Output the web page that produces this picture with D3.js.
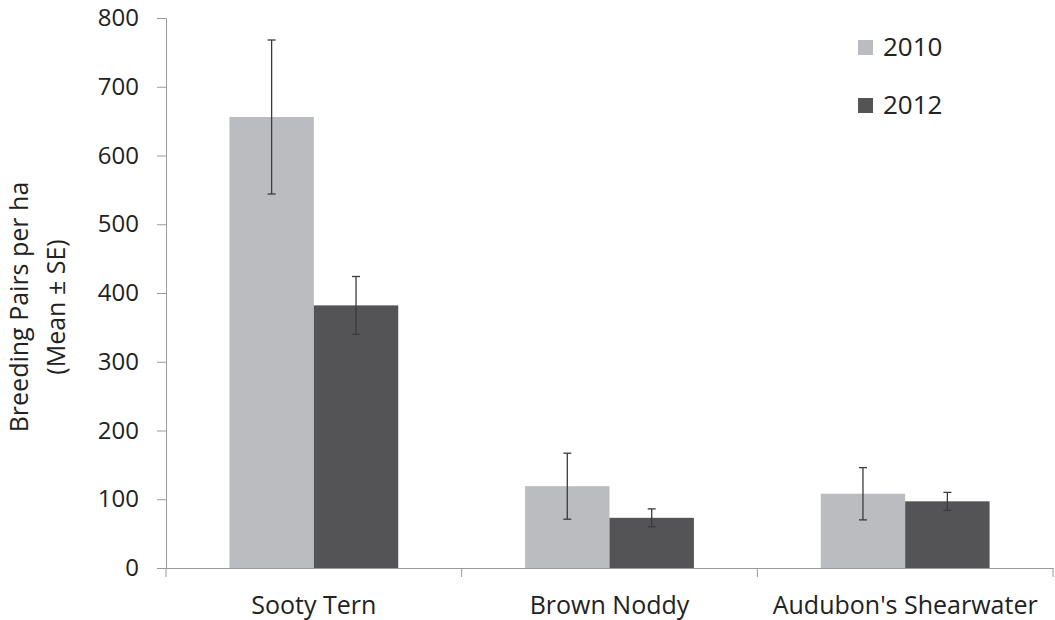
<!DOCTYPE html>
<html>
<head>
<meta charset="utf-8">
<script src="https://cdn.jsdelivr.net/npm/d3@7"></script>
<style>
  body { margin: 0; background: #fff; }
  text { font-family: "Open Sans", sans-serif; fill: #222; }
</style>
</head>
<body>
<script>
const species = ["Sooty Tern", "Brown Noddy", "Audubon's Shearwater"]
const years = ["2010", "2012"]
const mean2010 = [656, 119, 108]
const se2010 = [112, 48, 38]
const mean2012 = [382, 73, 97]
const se2012 = [42, 13, 13]
const yTicks = [0, 100, 200, 300, 400, 500, 600, 700, 800]

const colors = {"2010": "#bbbcc0", "2012": "#545456"}

const W = 1055, H = 620
const margin = {left: 166, right: 2, top: 18, bottom: 52}

const svg = d3.select("body").append("svg")
    .attr("width", W)
    .attr("height", H)

const x0 = d3.scaleBand()
    .domain(species)
    .range([margin.left, W - margin.right])
    .padding(0)

const x1 = d3.scaleBand()
    .domain(years)
    .range([0, x0.bandwidth() * 0.571])
    .padding(0)

const y = d3.scaleLinear()
    .domain([0, 800])
    .range([H - margin.bottom, margin.top])

const rows = species.map((s, i) => ({
    name: s,
    vals: [
        {year: "2010", mean: mean2010[i], se: se2010[i]},
        {year: "2012", mean: mean2012[i], se: se2012[i]},
    ]
}))

const groups = svg.selectAll("g.grp")
    .data(rows)
    .enter()
    .append("g")
    .attr("class", "grp")
    .attr("transform", d => `translate(${x0(d.name) + x0.bandwidth() * (1 - 0.571) / 2},0)`)

groups.selectAll("rect")
    .data(d => d.vals)
    .enter()
    .append("rect")
    .attr("x", d => x1(d.year))
    .attr("width", x1.bandwidth())
    .attr("y", d => y(d.mean))
    .attr("height", d => y(0) - y(d.mean))
    .attr("fill", d => colors[d.year])

// error bars
const err = groups.selectAll("g.err")
    .data(d => d.vals)
    .enter()
    .append("g")
    .attr("class", "err")
    .attr("stroke", "#3a3a3a")
    .attr("stroke-width", 1.3)

err.append("line")
    .attr("x1", d => x1(d.year) + x1.bandwidth() / 2)
    .attr("x2", d => x1(d.year) + x1.bandwidth() / 2)
    .attr("y1", d => y(d.mean + d.se))
    .attr("y2", d => y(d.mean - d.se))

err.selectAll("line.cap")
    .data(d => [d.mean + d.se, d.mean - d.se].map(v => ({v: v, year: d.year})))
    .enter()
    .append("line")
    .attr("class", "cap")
    .attr("x1", d => x1(d.year) + x1.bandwidth() / 2 - 4)
    .attr("x2", d => x1(d.year) + x1.bandwidth() / 2 + 4)
    .attr("y1", d => y(d.v))
    .attr("y2", d => y(d.v))

// y axis
const yAxis = svg.append("g")
    .attr("transform", `translate(${margin.left},0)`)
    .call(d3.axisLeft(y).tickValues(yTicks).tickSize(9).tickPadding(18))
yAxis.select(".domain").attr("stroke", "#9a9a9a")
yAxis.selectAll(".tick line").attr("stroke", "#9a9a9a")
yAxis.selectAll(".tick text")
    .style("font-family", "'Open Sans', sans-serif")
    .style("font-size", "24px")
    .attr("fill", "#222")

// x axis
const xAxis = svg.append("g")
    .attr("transform", `translate(0,${y(0)})`)
    .call(d3.axisBottom(x0).tickSize(0).tickPadding(28))
xAxis.select(".domain").attr("stroke", "#9a9a9a")
xAxis.selectAll(".tick text")
    .style("font-family", "'Open Sans', sans-serif")
    .style("font-size", "25px")
    .attr("fill", "#222")

const bounds = species.map(s => x0(s)).concat([x0.range()[1]])
xAxis.selectAll("line.sep")
    .data(bounds)
    .enter()
    .append("line")
    .attr("class", "sep")
    .attr("x1", d => d)
    .attr("x2", d => d)
    .attr("y1", 0)
    .attr("y2", 9)
    .attr("stroke", "#9a9a9a")

// y title
const title = svg.append("text")
    .attr("transform", "translate(28,307) rotate(-90)")
    .attr("text-anchor", "middle")
    .style("font-size", "25px")
title.append("tspan").attr("x", 0).attr("dy", 0).text("Breeding Pairs per ha")
title.append("tspan").attr("x", 0).attr("dy", 37).text("(Mean \u00b1 SE)")

// legend
const legend = svg.selectAll("g.leg")
    .data(years)
    .enter()
    .append("g")
    .attr("class", "leg")
    .attr("transform", (d, i) => `translate(858,${40 + i * 58})`)

legend.append("rect")
    .attr("width", 15)
    .attr("height", 15)
    .attr("fill", d => colors[d])

legend.append("text")
    .attr("x", 25)
    .attr("y", 16)
    .style("font-size", "26px")
    .text(d => d)
</script>
</body>
</html>
